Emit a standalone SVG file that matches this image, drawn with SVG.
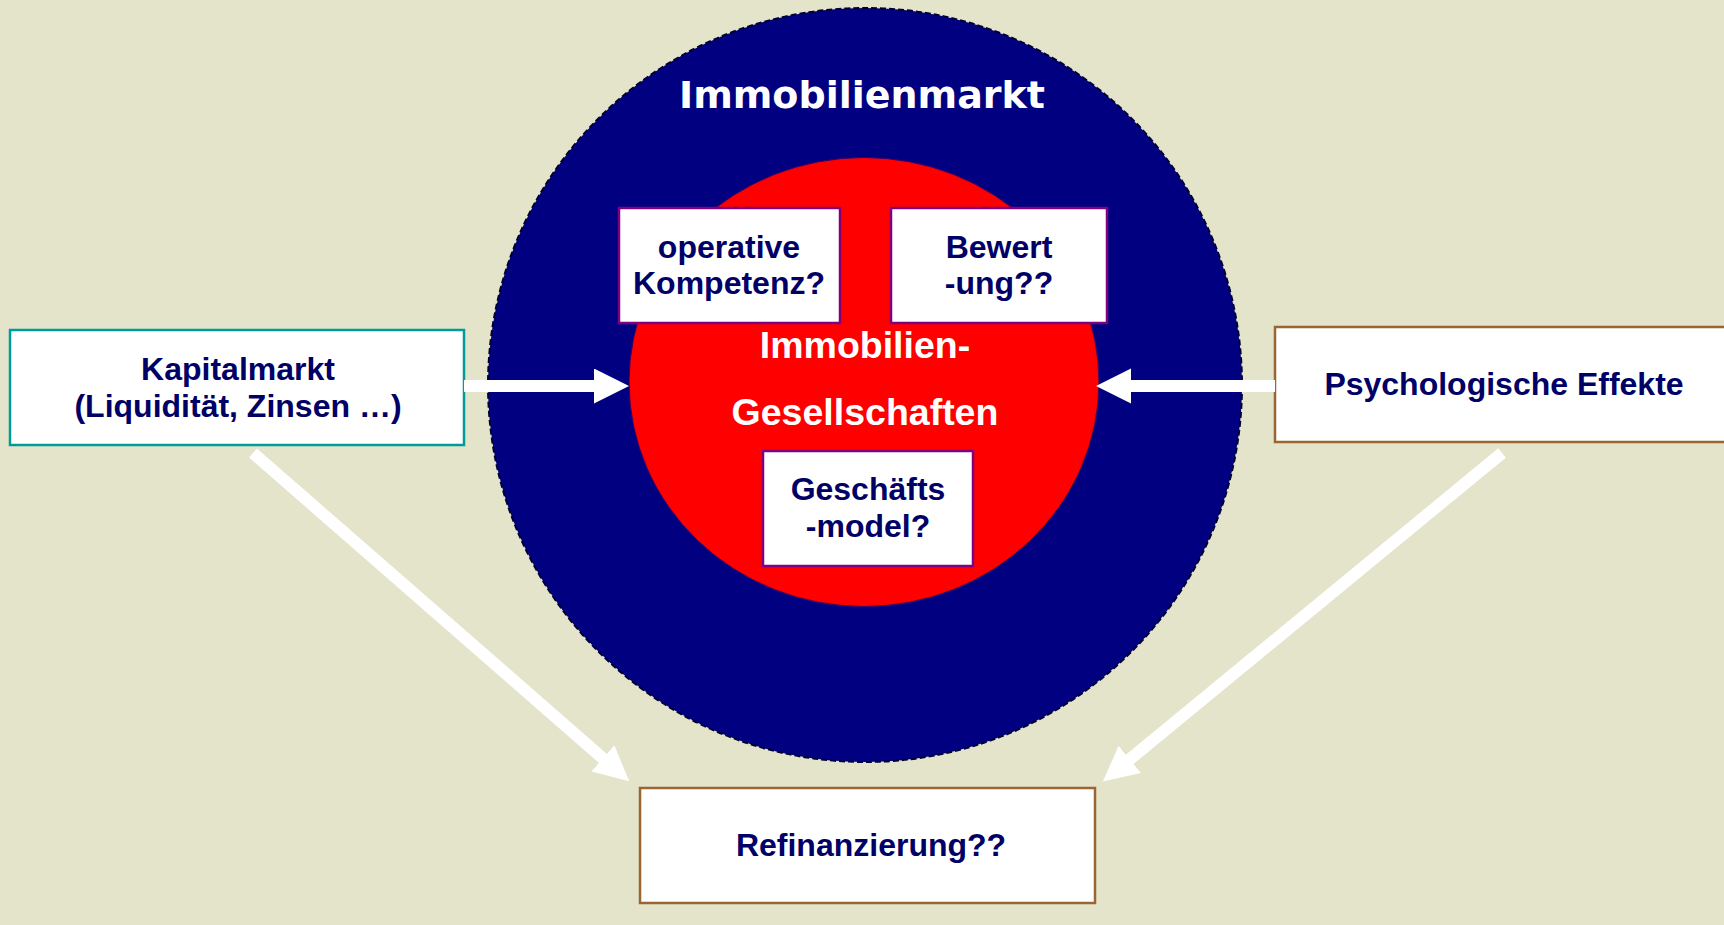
<svg xmlns="http://www.w3.org/2000/svg" width="1724" height="925" viewBox="0 0 1724 925">
<defs>
<style>
.lbl{font-family:"Liberation Sans",Arial,sans-serif;font-weight:bold;font-size:32px;fill:#000066;text-anchor:middle}
.box{fill:#ffffff;stroke-width:2.5}
.inner{stroke:#800080}
.conn{stroke:#ffffff;stroke-width:12;fill:none}
</style>
<marker id="ah" markerUnits="userSpaceOnUse" markerWidth="36" markerHeight="36" refX="1" refY="17.5" orient="auto">
<path d="M0,0 L35,17.5 L0,35 z" fill="#ffffff"/>
</marker>
</defs>
<rect width="1724" height="925" fill="#E4E4CB"/>
<g id="immobilienmarkt">
<circle cx="865" cy="385" r="377" fill="#000080" stroke="#000033" stroke-width="2" stroke-dasharray="6 3"/>
<text x="862" y="108" style="font-family:'DejaVu Sans',Verdana,sans-serif;font-weight:bold;font-size:38px;fill:#ffffff;text-anchor:middle">Immobilienmarkt</text>
</g>
<g id="immobilien-gesellschaften">
<ellipse cx="864" cy="382" rx="235" ry="224.5" fill="#ff0000" stroke="#330066" stroke-width="1"/>
<text class="lbl" x="865" y="358" style="fill:#ffffff;font-size:37.5px">Immobilien-</text>
<text class="lbl" x="865" y="425" style="fill:#ffffff;font-size:37.5px">Gesellschaften</text>
</g>
<g id="operative-kompetenz">
<rect class="box inner" x="619" y="208" width="221" height="115"/>
<text class="lbl" x="729" y="258">operative</text>
<text class="lbl" x="729" y="294">Kompetenz?</text>
</g>
<g id="bewertung">
<rect class="box inner" x="891" y="208" width="216" height="115"/>
<text class="lbl" x="999" y="258">Bewert</text>
<text class="lbl" x="999" y="294">-ung??</text>
</g>
<g id="geschaeftsmodel">
<rect class="box inner" x="763" y="451" width="210" height="115"/>
<text class="lbl" x="868" y="500">Geschäfts</text>
<text class="lbl" x="868" y="537">-model?</text>
</g>
<g id="kapitalmarkt">
<rect class="box" x="10" y="330" width="454" height="115" stroke="#009C99"/>
<text class="lbl" x="238" y="380">Kapitalmarkt</text>
<text class="lbl" x="238" y="417">(Liquidität, Zinsen …)</text>
</g>
<g id="psychologische-effekte">
<rect class="box" x="1275" y="327" width="460" height="115" stroke="#996633"/>
<text class="lbl" x="1504" y="395">Psychologische Effekte</text>
</g>
<g id="refinanzierung">
<rect class="box" x="640" y="788" width="455" height="115" stroke="#996633"/>
<text class="lbl" x="871" y="856">Refinanzierung??</text>
</g>
<g id="connectors">
<line class="conn" x1="464" y1="386" x2="595" y2="386" marker-end="url(#ah)"/>
<line class="conn" x1="1275" y1="386" x2="1130" y2="386" marker-end="url(#ah)"/>
<line class="conn" x1="253" y1="453" x2="603.6" y2="759" marker-end="url(#ah)"/>
<line class="conn" x1="1502" y1="453" x2="1129" y2="760" marker-end="url(#ah)"/>
</g>
</svg>
